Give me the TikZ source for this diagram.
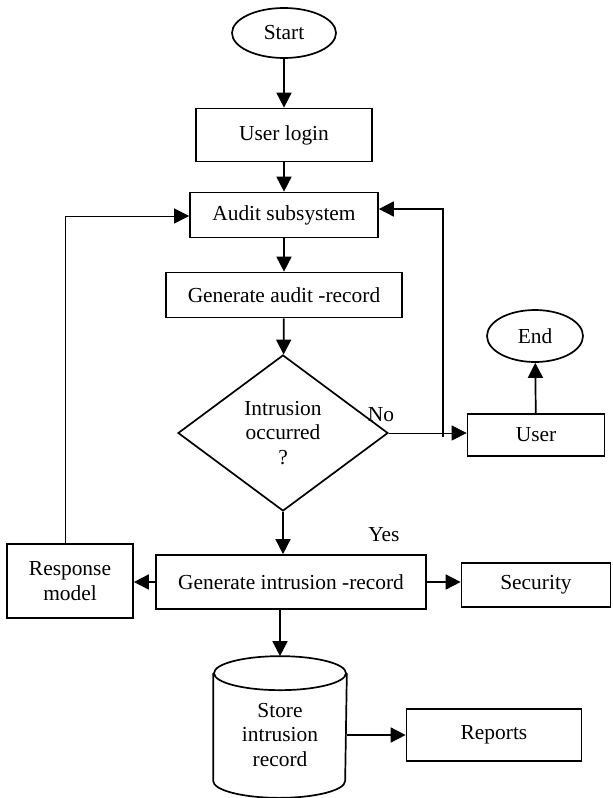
\documentclass[tikz,border=0pt]{standalone}
\usepackage{fontspec}
\setmainfont{Liberation Serif}
\usetikzlibrary{arrows.meta,shapes.geometric,positioning}

\begin{document}
\begin{tikzpicture}[x=0.5pt,y=-0.5pt,>={Triangle[length=7.5pt,width=7.5pt]},line width=0.85pt,
    font=\fontsize{10.7}{12.4}\selectfont,
    box/.style={draw,rectangle,inner sep=0pt,align=center},
    term/.style={draw,ellipse,inner sep=0pt},
    test/.style={draw,diamond,inner sep=0pt,align=center}]
    \useasboundingbox (0,0) rectangle (613,798);

    \node[term] (start)    at (284,33)  [minimum width=52pt,minimum height=25pt] {Start};
    \node[box]  (login)    at (284,135) [minimum width=88pt,minimum height=26.5pt] {User login};
    \node[box]  (audit)    at (284,215) [minimum width=94pt,minimum height=22.5pt] {Audit subsystem};
    \node[box]  (genaudit) at (284,295) [minimum width=118pt,minimum height=22.5pt] {Generate audit -record};
    \node[test] (occurred) at (283,433) [minimum width=105pt,minimum height=78pt] {Intrusion\\occurred\\?};
    \node[box]  (user)     at (536,435) [minimum width=68.5pt,minimum height=21pt] {User};
    \node[term] (stop)     at (535,336) [minimum width=48pt,minimum height=26pt] {End};
    \node[box]  (genintr)  at (291,582) [minimum width=135pt,minimum height=27pt] {Generate intrusion -record};
    \node[box]  (response) at (70,581)  [minimum width=63pt,minimum height=37pt] {Response\\model};
    \node[box]  (security) at (536,585) [minimum width=74.5pt,minimum height=22pt] {Security};
    \node[inner sep=0pt] (store) at (280,727) [minimum width=66pt,minimum height=70pt] {};
    \node[align=center] at ([yshift=-4pt]store.center) {Store\\intrusion\\record};
    \node[box]  (reports)  at (494,735) [minimum width=87.5pt,minimum height=26pt] {Reports};
    \node (no)  at (381,415) {No};
    \node (yes) at (384,535) {Yes};

    \draw (store.north) ++(0,17) ellipse [x radius=33pt,y radius=8.5pt];
    \draw ([yshift=-8.5pt]store.north west) -- ([yshift=8.5pt]store.south west)
      arc [start angle=180,end angle=360,x radius=33pt,y radius=8.5pt]
      -- ([yshift=-8.5pt]store.north east);

    \coordinate (nofoot) at (443,437);
    \coordinate (notop)  at (443,209);
    \coordinate (rtop)   at (65,216);

    \path[->]
    (start) edge (login)
    (login) edge (audit)
    (audit) edge (genaudit)
    (genaudit) edge (occurred)
    (user) edge (stop)
    (genintr.east) edge (genintr.east -| security.west)
    (genintr.west) edge (genintr.west -| response.east)
    (genintr.south -| store.north) edge (store.north)
    (store.east |- reports.west) edge (reports.west)
    ;
    \draw[->,thin] (occurred.east) -- (occurred.east -| user.west);
    \draw[->] (occurred.south) -- (occurred.south |- genintr.north);
    \draw[->] (nofoot) -- (notop) -- (notop -| audit.east);
    \draw[->,thin] (response.north -| rtop) -- (rtop) -- (rtop -| audit.west);
  \end{tikzpicture}
\end{document}
